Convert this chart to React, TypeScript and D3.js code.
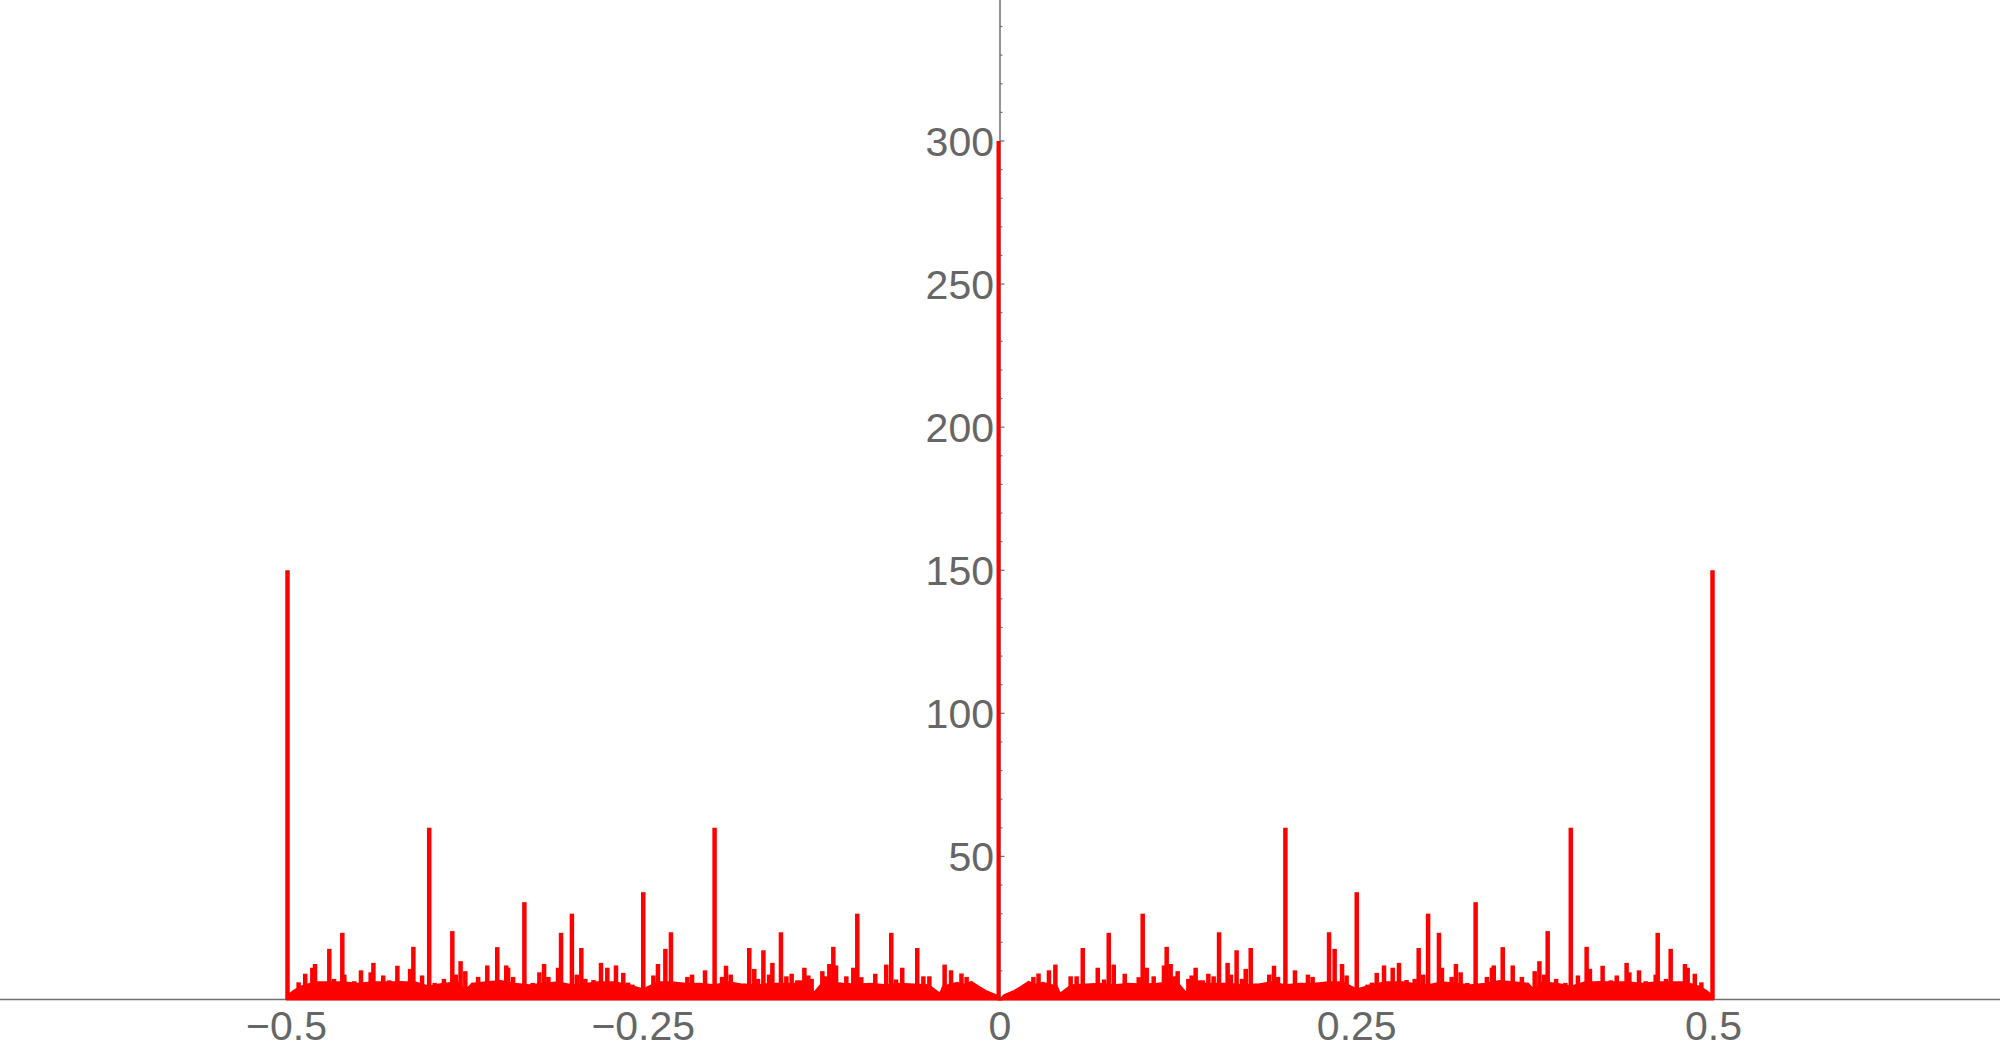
import React from "react";
import * as d3 from "d3";

// Spectrum is symmetric about 0: values are read for positive frequencies and drawn at ±f.
const centerPeak = 300;
const edgePeak = 150;

// Dense low "floor" of the spectrum (frequency, height)
const floorFreq = [0.0, 0.003, 0.01, 0.015, 0.02, 0.025, 0.03, 0.04, 0.042, 0.05, 0.06, 0.07, 0.08, 0.09, 0.1, 0.11, 0.12, 0.125, 0.13, 0.14, 0.15, 0.16, 0.17, 0.18, 0.19, 0.2, 0.21, 0.22, 0.23, 0.24, 0.25, 0.26, 0.27, 0.28, 0.29, 0.3, 0.31, 0.32, 0.33, 0.34, 0.35, 0.36, 0.37, 0.375, 0.38, 0.39, 0.4, 0.41, 0.42, 0.43, 0.44, 0.45, 0.46, 0.47, 0.48, 0.49, 0.495, 0.4995];
const floorVal = [0.0, 1.5, 3.0, 4.5, 6.2, 5.2, 5.8, 4.5, 2.0, 5.0, 5.2, 5.5, 5.0, 5.5, 5.2, 5.5, 6.0, 5.5, 2.5, 5.5, 5.5, 5.5, 5.0, 5.2, 6.0, 5.0, 5.5, 5.5, 6.0, 6.0, 3.5, 5.0, 6.0, 6.0, 5.5, 5.0, 6.0, 5.5, 5.0, 5.5, 6.5, 6.0, 5.5, 3.0, 6.0, 5.5, 4.5, 6.0, 6.0, 6.0, 6.0, 5.5, 6.0, 6.0, 6.0, 4.5, 3.0, 1.2];

// Individual spikes above the floor (frequency, height)
const spikeFreq = [0.0234, 0.027, 0.0343, 0.0388, 0.0495, 0.0537, 0.058, 0.0685, 0.0729, 0.0762, 0.0797, 0.0874, 0.0931, 0.0972, 0.1, 0.1028, 0.1077, 0.1149, 0.1168, 0.1196, 0.122, 0.1245, 0.132, 0.1343, 0.1371, 0.1395, 0.1421, 0.146, 0.1497, 0.1535, 0.1595, 0.1618, 0.1658, 0.1696, 0.1722, 0.1757, 0.1794, 0.1887, 0.192, 0.1948, 0.2, 0.2067, 0.2158, 0.2191, 0.2231, 0.2261, 0.2306, 0.2345, 0.2397, 0.2429, 0.25, 0.2576, 0.2607, 0.264, 0.2691, 0.2752, 0.2796, 0.2825, 0.2849, 0.2906, 0.2934, 0.2966, 0.3, 0.3076, 0.3097, 0.3165, 0.3195, 0.3228, 0.3275, 0.3333, 0.3412, 0.3447, 0.346, 0.3523, 0.3593, 0.3657, 0.3692, 0.3747, 0.378, 0.3813, 0.3838, 0.3897, 0.3929, 0.3962, 0.4, 0.405, 0.4111, 0.4134, 0.4192, 0.4223, 0.428, 0.4322, 0.4391, 0.441, 0.4478, 0.4525, 0.4595, 0.4609, 0.4667, 0.47, 0.4732, 0.48, 0.4819, 0.4869, 0.4915];
const spikeVal = [7.9, 9.1, 10.2, 12.2, 8.1, 8.1, 18.0, 11.1, 7.0, 23.3, 12.2, 9.0, 5.5, 7.8, 30.0, 11.1, 8.1, 11.9, 18.4, 12.4, 8.1, 9.9, 7.2, 8.4, 11.1, 6.7, 6.7, 9.0, 8.1, 23.5, 12.8, 8.7, 17.2, 7.2, 10.7, 18.0, 5.5, 8.7, 11.8, 7.9, 60.0, 10.2, 8.7, 7.9, 5.8, 6.0, 23.5, 17.7, 12.4, 8.4, 37.5, 5.2, 5.9, 9.3, 11.9, 11.1, 12.8, 6.3, 6.8, 7.2, 18.0, 8.7, 30.0, 23.3, 11.1, 7.9, 12.4, 9.5, 5.8, 34.0, 7.9, 11.1, 11.9, 18.3, 11.9, 7.9, 5.8, 9.9, 13.4, 8.7, 23.9, 7.2, 5.5, 5.8, 60.0, 8.4, 18.4, 10.7, 6.4, 11.8, 6.7, 8.4, 12.8, 9.5, 10.2, 6.4, 8.7, 23.3, 7.2, 17.7, 5.8, 12.4, 11.1, 9.0, 6.0];

const xTickMajor = [-0.5, -0.25, 0, 0.25, 0.5];
const xTickLabels = ["\u22120.5", "\u22120.25", "0", "0.25", "0.5"];
const yTickMajor = [50, 100, 150, 200, 250, 300];

const W = 2000;
const H = 1051;
const RED = "#ff0000";
const AXIS = "#707070";
const LABEL = "#666666";
const FONT = "'Liberation Sans', Arial, sans-serif";

export default function App() {
  const x = d3.scaleLinear().domain([-0.5, 0.5]).range([286.5, 1713.5]);
  const y = d3.scaleLinear().domain([0, 300]).range([999.5, 141]);
  const x0 = x(0);
  const y0 = y(0);

  const floorPts: [number, number][] = floorFreq.map((f, i) => [f, floorVal[i]]);
  const area = d3
    .area<[number, number]>()
    .x((d) => x(d[0]))
    .y0(y0)
    .y1((d) => y(d[1]));
  const rightFloor = area(floorPts) || "";
  const leftFloor = area(floorPts.map((d) => [-d[0], d[1]] as [number, number])) || "";

  const spikes: { f: number; v: number }[] = [];
  spikeFreq.forEach((f, i) => {
    spikes.push({ f, v: spikeVal[i] });
    spikes.push({ f: -f, v: spikeVal[i] });
  });

  const yMinor = d3.range(10, 350, 10).filter((v) => v % 50 !== 0);

  return (
    <svg width={W} height={H} style={{ position: "absolute", left: 0, top: 0, background: "#fff" }}>
      {/* axes */}
      <line x1={0} x2={W} y1={y0} y2={y0} stroke={AXIS} strokeWidth={1.5} />
      <line x1={x0} x2={x0} y1={0} y2={y0} stroke={AXIS} strokeWidth={1.5} />
      {yMinor.map((v) => (
        <line key={"ym" + v} x1={x0} x2={x0 + 2.5} y1={y(v)} y2={y(v)} stroke={AXIS} strokeWidth={1.2} />
      ))}
      {yTickMajor.map((v) => (
        <line key={"yM" + v} x1={x0} x2={x0 + 4.5} y1={y(v)} y2={y(v)} stroke={AXIS} strokeWidth={1.2} />
      ))}
      {xTickMajor.map((v) => (
        <line key={"xM" + v} x1={x(v)} x2={x(v)} y1={y0} y2={y0 - 4.5} stroke={AXIS} strokeWidth={1.2} />
      ))}

      {/* data */}
      <path d={rightFloor} fill={RED} stroke={RED} strokeWidth={2} />
      <path d={leftFloor} fill={RED} stroke={RED} strokeWidth={2} />
      {spikes.map((s, i) => (
        <line key={"s" + i} x1={x(s.f)} x2={x(s.f)} y1={y0} y2={y(s.v)} stroke={RED} strokeWidth={4.5} />
      ))}
      <line x1={x(0) - 1.5} x2={x(0) - 1.5} y1={y0} y2={y(centerPeak)} stroke={RED} strokeWidth={4} />
      <line x1={x(0.5) - 1} x2={x(0.5) - 1} y1={y0} y2={y(edgePeak)} stroke={RED} strokeWidth={4.5} />
      <line x1={x(-0.5) + 1} x2={x(-0.5) + 1} y1={y0} y2={y(edgePeak)} stroke={RED} strokeWidth={4.5} />

      {/* labels */}
      {yTickMajor.map((v) => (
        <text
          key={"yl" + v}
          x={x0 - 6}
          y={y(v)}
          dy="0.36em"
          textAnchor="end"
          fontFamily={FONT}
          fontSize={41}
          fill={LABEL}
        >
          {v}
        </text>
      ))}
      {xTickMajor.map((v, i) => (
        <text
          key={"xl" + v}
          x={x(v)}
          y={1040}
          textAnchor="middle"
          fontFamily={FONT}
          fontSize={41}
          fill={LABEL}
        >
          {xTickLabels[i]}
        </text>
      ))}
    </svg>
  );
}
